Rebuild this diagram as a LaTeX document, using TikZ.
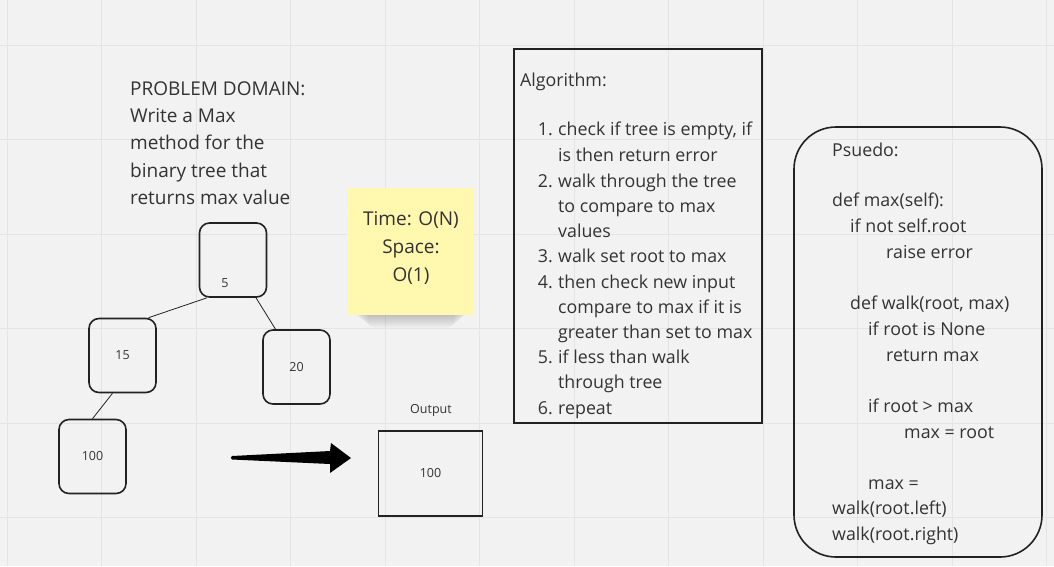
\documentclass[tikz,border=0pt]{standalone}
\usepackage{fontspec}
\setmainfont{Open Sans}
\definecolor{bg}{HTML}{F2F2F2}
\definecolor{gridc}{HTML}{E4E4E4}
\definecolor{ink}{HTML}{333333}
\definecolor{boxline}{HTML}{222222}
\definecolor{sticky}{HTML}{FFF8AE}
\tikzset{
  txt/.style={inner sep=0pt, anchor=base west, text=ink, font=\fontsize{17.8}{25}\selectfont},
  bigtxt/.style={inner sep=0pt, anchor=base west, text=ink, font=\fontsize{19}{27}\selectfont},
  small/.style={inner sep=0pt, text=ink, font=\fontsize{12.5}{15}\selectfont},
  treebox/.style={draw=boxline, line width=1.6pt, rounded corners=10pt, minimum width=67pt, minimum height=74pt, inner sep=0pt},
  edge/.style={draw=boxline, line width=0.8pt},
}
\begin{document}
\begin{tikzpicture}[x=1pt,y=-1pt]
\fill[bg] (0,0) rectangle (1054,566);
\useasboundingbox (0,0) rectangle (1054,566);
% grid
\foreach \i in {0,...,11} \draw[gridc, line width=1pt] ({7+94.5*\i},0) -- ({7+94.5*\i},566);
\foreach \j in {0,...,5} \draw[gridc, line width=1pt] (0,{45+94.5*\j}) -- (1054,{45+94.5*\j});

% problem domain
\node[bigtxt] (pd1) at (130,95) {PROBLEM DOMAIN:};
\node[bigtxt] (pd2) at (130,122) {Write a Max};
\node[bigtxt] (pd3) at (130,149) {method for the};
\node[bigtxt] (pd4) at (130,177) {binary tree that};
\node[bigtxt] (pd5) at (130,204) {returns max value};

% sticky note with soft shadow
\foreach \k in {0,...,9}
  \fill[black, opacity=0.025, rounded corners=6pt] ({352+\k*1.8},{300+\k*0.6}) rectangle ({470-\k*1.8},{314+\k*1.5});
\node[fill=sticky, minimum width=126pt, minimum height=127pt, inner sep=0pt] (note) at (411,251.5) {};
\node[inner sep=0pt, text=ink, align=center, font=\fontsize{19}{28}\selectfont] (notetxt) at (411,248) {Time: O(N)\\Space:\\O(1)};

% tree
\node[treebox] (n5) at (233,260) {};
\node[small] (n5t) at (225,283) {5};
\node[treebox] (n15) at (122.5,355.5) {};
\node[small] (n15t) at (n15) {15};
\node[treebox] (n20) at (296.5,367) {};
\node[small] (n20t) at (n20) {20};
\node[treebox] (n100) at (92.5,456.5) {};
\node[small] (n100t) at (n100) {100};
\draw[edge] ([xshift=-26pt]n5.south) -- ([xshift=26pt]n15.north);
\draw[edge] ([xshift=23pt]n5.south) -- ([xshift=-21pt]n20.north);
\draw[edge] ([xshift=-10pt]n15.south) -- ([xshift=0pt]n100.north);

% big arrow
\coordinate (atail) at (232,457.5);
\coordinate (atip) at (351,458);
\fill[black] (232,456) -- (330,451) -- (331,443) -- (atip) -- (330,473) -- (330,464) -- (232,459.5)
  .. controls (230.5,459) and (230.5,456.5) .. (232,456) -- cycle;

% output
\node[draw=boxline, line width=1.6pt, minimum width=104pt, minimum height=85pt, inner sep=0pt] (out) at (430.5,473.5) {};
\node[small] (outt) at (out) {100};
\node[small] (outlbl) at (431,410) {Output};

% algorithm box
\node[draw=boxline, line width=1.6pt, minimum width=248pt, minimum height=374pt, inner sep=0pt] (alg) at (638,236) {};
\node[txt] (a0) at (520,86) {Algorithm:};
\foreach \y/\n/\t [count=\c] in {135/1./{check if tree is empty, if}, 187/2./walk through the tree, 262/3./walk set root to max, 288/4./then check new input, 363/5./if less than walk, 414/6./repeat}
  {\node[txt, anchor=base east] (num\c) at (553,\y) {\n}; \node[txt] (item\c) at (558,\y) {\t};}
\foreach \y/\t [count=\c] in {161/is then return error, 212/to compare to max, 237/values, 313/compare to max if it is, 338/greater than set to max, 388/through tree}
  {\node[txt] (cont\c) at (558,\y) {\t};}

% pseudo box
\draw[boxline, line width=1.6pt, rounded corners=42pt] (794,127) rectangle (1042,557);
\coordinate (pseudo) at (918,342);
\foreach \x/\y/\t [count=\c] in {832/156/Psuedo:, 832/206/def max(self):, 850/232/if not self.root, 886/258/raise error, 850/309/{def walk(root, max)}, 868/335/if root is None, 886/361/return max, 868/412/if root > max, 904/438/max = root, 868/489/max =, 832/514/walk(root.left), 832/540/walk(root.right)}
  {\node[txt] (ps\c) at (\x,\y) {\t};}
\end{tikzpicture}
\end{document}
